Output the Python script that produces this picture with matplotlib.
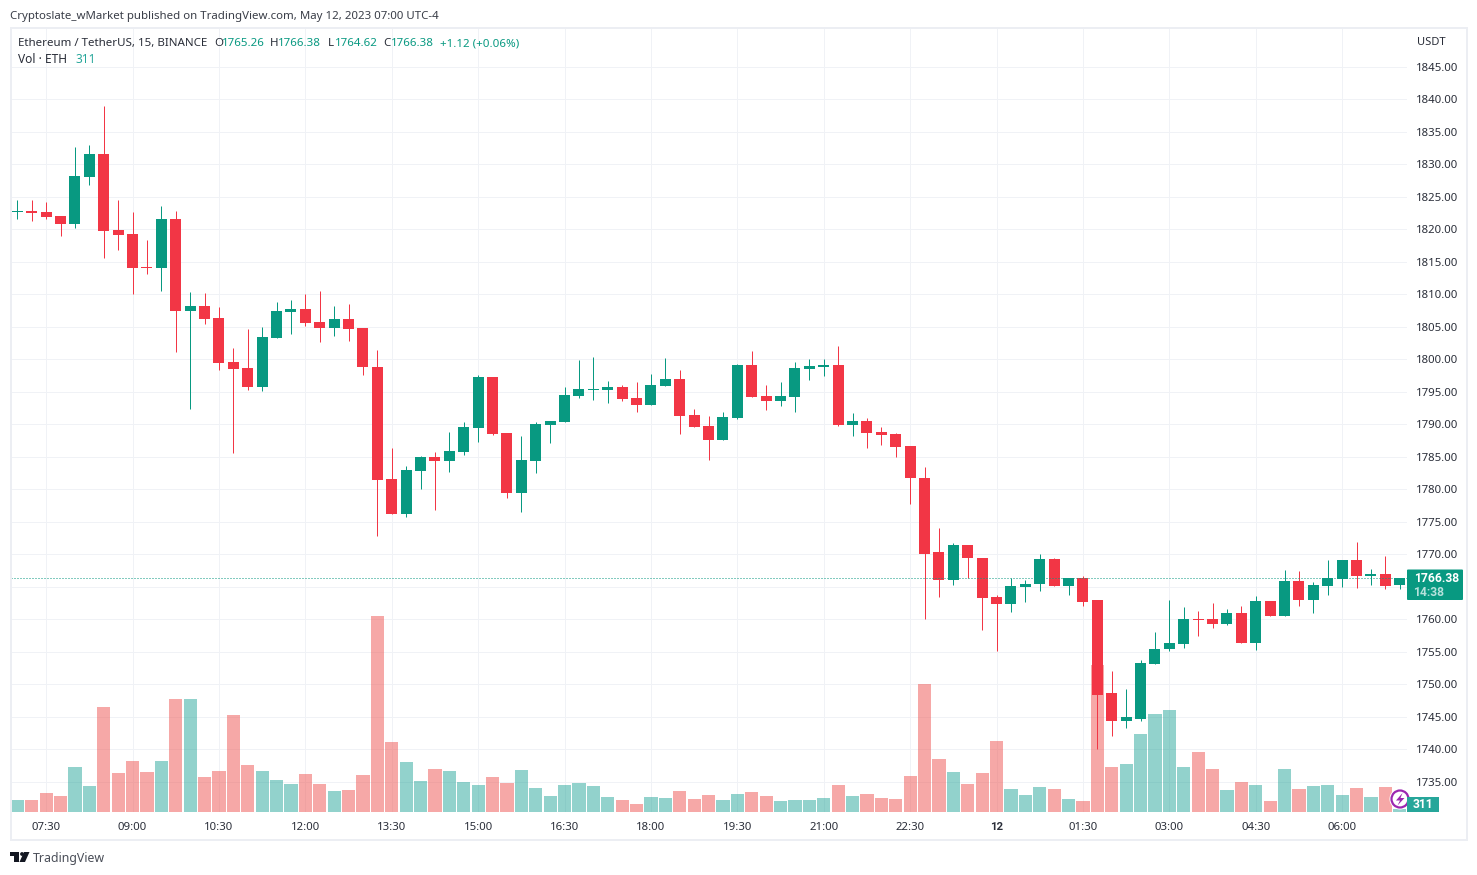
"""ETH/USDT 15 minute candles with volume, TradingView snapshot style."""
import matplotlib
matplotlib.use("Agg")
import matplotlib.pyplot as plt
from matplotlib.patches import Circle, FancyBboxPatch, Polygon, Rectangle

opens = [
    1822.7, 1822.8, 1822.7, 1822.05, 1820.8, 1828.05, 1831.6, 1819.9, 1819.3, 1814.2,
    1814.05, 1821.6, 1807.4, 1808.2, 1806.4, 1799.6, 1798.7, 1795.7, 1803.3, 1807.3,
    1807.7, 1805.7, 1804.8, 1806.2, 1804.8, 1798.8, 1781.6, 1776.2, 1782.8, 1785.0,
    1784.4, 1785.7, 1789.4, 1797.3, 1788.7, 1779.4, 1784.4, 1789.9, 1790.4, 1794.4,
    1795.3, 1795.3, 1795.7, 1794.05, 1793.0, 1795.9, 1797.0, 1791.4, 1789.7, 1787.6,
    1791.0, 1799.1, 1794.4, 1793.6, 1794.2, 1798.5, 1798.8, 1799.1, 1789.9, 1790.5,
    1788.8, 1788.5, 1786.6, 1781.8, 1770.3, 1766.0, 1771.5, 1769.5, 1763.4, 1762.4,
    1764.9, 1765.4, 1769.2, 1765.05, 1766.4, 1762.9, 1748.6, 1744.4, 1744.7, 1753.05,
    1755.4, 1756.2, 1760.05, 1760.05, 1759.3, 1761.0, 1756.4, 1762.8, 1760.5, 1765.9,
    1763.0, 1765.1, 1766.2, 1769.1, 1766.7, 1767.0, 1765.26,
]
closes = [
    1822.8, 1822.5, 1821.9, 1820.8, 1828.2, 1831.6, 1819.7, 1819.1, 1814.05, 1814.05,
    1821.6, 1807.4, 1808.2, 1806.2, 1799.4, 1798.5, 1795.7, 1803.4, 1807.4, 1807.7,
    1805.6, 1804.8, 1806.2, 1804.7, 1798.8, 1781.4, 1776.2, 1783.0, 1785.0, 1784.4,
    1785.9, 1789.6, 1797.3, 1788.5, 1779.4, 1784.5, 1790.05, 1790.5, 1794.5, 1795.4,
    1795.4, 1795.7, 1793.9, 1793.0, 1796.05, 1797.0, 1791.3, 1789.6, 1787.6, 1791.1,
    1799.1, 1794.2, 1793.6, 1794.4, 1798.7, 1799.0, 1799.1, 1789.9, 1790.5, 1788.7,
    1788.4, 1786.5, 1781.7, 1770.1, 1766.0, 1771.5, 1769.4, 1763.2, 1762.4, 1765.05,
    1765.5, 1769.2, 1765.05, 1766.4, 1762.7, 1748.4, 1744.4, 1744.9, 1753.2, 1755.5,
    1756.4, 1760.05, 1759.9, 1759.3, 1761.0, 1756.4, 1762.8, 1760.5, 1765.9, 1763.0,
    1765.3, 1766.4, 1769.1, 1766.7, 1767.0, 1765.1, 1766.38,
]
highs = [
    1824.5, 1824.5, 1824.2, 1822.05, 1832.7, 1833.0, 1839.0, 1824.5, 1822.7, 1818.4,
    1823.6, 1822.8, 1810.4, 1810.2, 1808.05, 1801.7, 1804.7, 1805.0, 1808.8, 1809.1,
    1810.05, 1810.5, 1808.2, 1808.5, 1804.8, 1801.4, 1786.4, 1783.6, 1785.1, 1785.7,
    1788.8, 1790.4, 1797.6, 1797.3, 1788.7, 1788.2, 1790.4, 1790.5, 1795.7, 1799.9,
    1800.4, 1796.7, 1796.05, 1796.5, 1797.7, 1800.2, 1798.4, 1792.4, 1791.3, 1791.9,
    1799.3, 1801.3, 1796.05, 1796.5, 1799.6, 1800.05, 1800.05, 1802.05, 1791.7, 1791.0,
    1789.6, 1788.7, 1786.6, 1783.4, 1774.0, 1771.8, 1771.5, 1769.5, 1763.7, 1766.4,
    1766.1, 1770.1, 1769.5, 1766.4, 1766.7, 1762.9, 1752.0, 1749.3, 1753.7, 1758.0,
    1763.0, 1761.9, 1761.3, 1762.5, 1761.6, 1762.05, 1763.6, 1762.8, 1767.6, 1767.4,
    1765.7, 1769.1, 1769.1, 1771.9, 1767.7, 1769.7, 1766.38,
]
lows = [
    1821.6, 1821.3, 1821.6, 1819.0, 1820.2, 1826.8, 1815.6, 1816.8, 1810.05, 1813.1,
    1810.5, 1801.1, 1792.4, 1805.4, 1798.4, 1785.6, 1795.3, 1795.1, 1803.3, 1803.9,
    1805.1, 1802.7, 1803.6, 1802.8, 1797.6, 1772.8, 1776.2, 1775.7, 1780.05, 1776.8,
    1782.7, 1785.3, 1787.3, 1788.4, 1778.7, 1776.5, 1782.5, 1787.1, 1790.4, 1794.05,
    1793.7, 1793.3, 1793.6, 1791.9, 1793.0, 1795.9, 1788.5, 1789.6, 1784.5, 1787.6,
    1790.8, 1794.2, 1792.2, 1792.8, 1791.9, 1796.8, 1797.4, 1789.7, 1788.2, 1786.4,
    1786.8, 1785.0, 1777.7, 1760.1, 1763.4, 1765.2, 1766.4, 1758.3, 1755.05, 1761.05,
    1762.7, 1764.4, 1765.05, 1763.8, 1762.1, 1740.1, 1742.0, 1743.2, 1744.4, 1753.05,
    1755.05, 1755.6, 1757.4, 1758.7, 1759.1, 1756.4, 1755.3, 1760.5, 1760.5, 1762.05,
    1761.0, 1763.7, 1765.0, 1764.8, 1765.3, 1764.7, 1764.62,
]
volumes = [
    1200, 1200, 1900, 1600, 4500, 2600, 10500, 3900, 5100, 4000,
    5100, 11300, 11300, 3500, 4100, 9700, 4700, 4100, 3200, 2800,
    3800, 2800, 2100, 2200, 3700, 19600, 7000, 5000, 3100, 4300,
    4100, 3000, 2700, 3500, 2900, 4200, 2400, 1600, 2700, 2900,
    2600, 1500, 1200, 800, 1500, 1400, 2100, 1300, 1700, 1200,
    1800, 2000, 1600, 1100, 1200, 1200, 1400, 2700, 1600, 1800,
    1400, 1300, 3600, 12800, 5300, 4000, 2800, 3900, 7100, 2300,
    1700, 2500, 2300, 1300, 1100, 14700, 4500, 4800, 7800, 9800,
    10200, 4500, 6000, 4300, 2200, 3000, 2700, 1100, 4300, 2300,
    2600, 2700, 1700, 2400, 1500, 2500, 311,
]
time_ticks = [2, 8, 14, 20, 26, 32, 38, 44, 50, 56, 62, 68, 74, 80, 86, 92]
time_labels = ["07:30", "09:00", "10:30", "12:00", "13:30", "15:00", "16:30", "18:00",
               "19:30", "21:00", "22:30", "12", "01:30", "03:00", "04:30", "06:00"]
price_ticks = [1735, 1740, 1745, 1750, 1755, 1760, 1765, 1770, 1775, 1780, 1785, 1790,
               1795, 1800, 1805, 1810, 1815, 1820, 1825, 1830, 1835, 1840, 1845]
last_price = 1766.38

W, H = 1477, 875
GREEN = "#089981"
RED = "#F23645"
GRID = "#F0F2F6"
TEXT = "#2A2E39"
FONT = "Noto Sans"
BOLD_FONT = "Roboto"  # the Noto install has no usable bold face
PX = 0.72  # one pixel in points at dpi 100

plt.rcParams["font.family"] = [FONT, "DejaVu Sans"]


def fx(x):
    return x / W


def fy(y):
    return 1 - y / H


def label(x, y, s, color=TEXT, size=8.3, **kw):
    fig.text(fx(x), fy(y + 1.5), s, color=color, fontsize=size, va="center", **kw)


fig = plt.figure(figsize=(W / 100, H / 100), dpi=100, facecolor="white")
rect = [fx(11), 1 - 812 / H, (1407 - 11) / W, (812 - 28) / H]

# price axes carries the grid, volume goes over it, candles over that
ax = fig.add_axes(rect, zorder=1)
ax_vol = fig.add_axes(rect, zorder=2, sharex=ax)
ax_c = fig.add_axes(rect, zorder=3, sharex=ax, sharey=ax)
for a in (ax_vol, ax_c):
    a.patch.set_visible(False)
    a.axis("off")

idx = list(range(len(opens)))
up = [c >= o for o, c in zip(opens, closes)]
candle_colors = [GREEN if u else RED for u in up]
vol_colors = ["#26A69A" if u else "#EF5350" for u in up]

ax.set_xlim(-0.4375, 96.5)
ax.set_ylim(1730.35, 1850.97)
ax_vol.set_ylim(0, 78400)

ax.set_xticks(time_ticks)
ax.set_xticklabels(time_labels)
ax.set_yticks(price_ticks)
ax.set_yticklabels(["" if p == 1765 else f"{p:.2f}" for p in price_ticks])
ax.yaxis.tick_right()
ax.tick_params(axis="both", length=0, labelsize=8.2, labelcolor=TEXT)
ax.tick_params(axis="x", pad=7.4)
ax.tick_params(axis="y", pad=6.2)
ax.grid(True, color=GRID, lw=1.0 * PX)
ax.set_axisbelow(True)
for s in ax.spines.values():
    s.set_visible(False)
for t in ax.get_xticklabels():
    if t.get_text() == "12":
        t.set_fontfamily(BOLD_FONT)
        t.set_fontweight("bold")

ax_vol.bar(idx, volumes, width=13.2 / 14.4, color=vol_colors, alpha=0.5, linewidth=0)

ax_c.vlines(idx, lows, highs, colors=candle_colors, lw=1.0 * PX)
ax_c.bar(idx, [abs(c - o) for o, c in zip(opens, closes)],
         bottom=[min(o, c) for o, c in zip(opens, closes)],
         width=11 / 14.4, color=candle_colors, linewidth=0, antialiased=False)
last_line = ax_c.axhline(last_price, color=GREEN, lw=1.0 * PX, ls=(0, (1, 2)))
last_line.set_snap(True)

# frame round the chart
fig.add_artist(Rectangle((fx(10.5), fy(840)), (1467 - 10.5) / W, (840 - 27.5) / H,
                         transform=fig.transFigure, fill=False,
                         edgecolor="#ECEEF3", lw=2 * PX, zorder=5))

# header and legend
label(10, 15, "Cryptoslate_wMarket published on TradingView.com, May 12, 2023 07:00 UTC-4",
      color="#3A3E48", size=8.25)
label(18, 42, "Ethereum / TetherUS, 15, BINANCE")
for x, s, col in [(214, "O", TEXT), (222, "1765.26", GREEN), (270, "H", TEXT), (278, "1766.38", GREEN),
                  (328, "L", TEXT), (335, "1764.62", GREEN), (383, "C", TEXT), (391, "1766.38", GREEN),
                  (440, "+1.12 (+0.06%)", GREEN)]:
    label(x, 42, s, color=col)
label(18, 58, "Vol · ETH", size=8.6)
label(75, 58, "311", color="#26A69A", size=8.6)
label(1417, 41, "USDT", size=8.0)

# lightning badge, partly under the volume tag
fig.add_artist(Circle((1400, H - 799), 10.5, transform=None, facecolor="white", edgecolor="none", zorder=6))
fig.add_artist(Circle((1400, H - 799), 8.5, transform=None, facecolor="white",
                      edgecolor="#9C27B0", lw=1.6, zorder=6))
bolt = [(1402.5, 793), (1396, 800.5), (1400, 800.5), (1397.5, 805.5), (1404.5, 798), (1400.5, 798)]
fig.add_artist(Polygon([(x, H - y) for x, y in bolt], transform=None, facecolor="#9C27B0",
                       edgecolor="none", zorder=6))

# price and volume tags
fig.add_artist(FancyBboxPatch((1407, H - 600), 56, 30.5, boxstyle="round,pad=0,rounding_size=1",
                              transform=None, facecolor=GREEN, edgecolor="none", zorder=7))
fig.add_artist(Rectangle((1407, H - 812), 32, 15, transform=None, facecolor="#26A69A",
                         edgecolor="none", zorder=7))
for x, y, s, col in [(1436.5, 578, f"{last_price:.2f}", "white"),
                     (1429, 592, "14:38", "#B5E1DB"),
                     (1423, 805, "311", "white")]:
    t = fig.text(fx(x), fy(y), s, color=col, fontsize=8.7, family=BOLD_FONT, fontweight="bold",
                 ha="center", va="center")
    t.set_zorder(8)

# footer logo
for pts in ([(10, 852), (19, 852), (19, 862), (14, 862), (14, 856), (10, 856)],
            [(24, 852), (29.5, 852), (25, 862), (19.5, 862)]):
    fig.add_artist(Polygon([(x, H - y) for x, y in pts], transform=None, facecolor="#131722",
                           edgecolor="none", zorder=6))
fig.add_artist(Circle((22, H - 854), 1.9, transform=None, facecolor="#131722", edgecolor="none", zorder=6))
label(33, 857, "TradingView", color="#4A4E58", size=8.9)

fig.savefig("out.png", dpi=100, facecolor="white")
plt.close(fig)
